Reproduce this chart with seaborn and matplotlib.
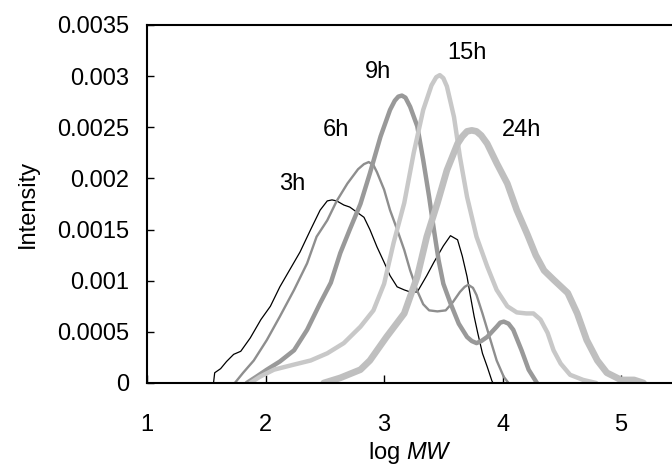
import matplotlib
matplotlib.use("Agg")
import matplotlib.pyplot as plt
import seaborn as sns
import pandas as pd

# ---- data ----
x3 = [1.56, 1.57, 1.62, 1.67, 1.73, 1.79, 1.87, 1.96, 2.04, 2.12, 2.21, 2.29, 2.38, 2.46, 2.52, 2.56,
      2.60, 2.66, 2.71, 2.77, 2.83, 2.88, 2.94, 3.00, 3.05, 3.11, 3.17, 3.22, 3.28, 3.32, 3.36, 3.42,
      3.50, 3.56, 3.62, 3.66, 3.70, 3.73, 3.76, 3.79, 3.83, 3.87, 3.91, 3.92]
y3 = [0, 0.00010, 0.00014, 0.00021, 0.00028, 0.00031, 0.00044, 0.00062, 0.00075, 0.00094, 0.00112,
      0.00128, 0.00150, 0.00169, 0.00178, 0.00179, 0.00178, 0.00174, 0.00172, 0.00167, 0.00162,
      0.00150, 0.00133, 0.00118, 0.00105, 0.00094, 0.00091, 0.00089, 0.00089, 0.00097, 0.00105,
      0.00118, 0.00134, 0.00144, 0.00140, 0.00124, 0.00104, 0.00084, 0.00065, 0.00049, 0.00029,
      0.00016, 0.00002, 0]

x6 = [1.74, 1.81, 1.90, 2.01, 2.12, 2.24, 2.35, 2.43, 2.52, 2.60, 2.69, 2.78, 2.83, 2.87, 2.91, 2.94,
      3.00, 3.05, 3.11, 3.17, 3.22, 3.28, 3.33, 3.38, 3.45, 3.52, 3.58, 3.64, 3.68, 3.71, 3.75, 3.78,
      3.83, 3.89, 3.95, 4.01, 4.05]
y6 = [0, 0.00010, 0.00022, 0.00042, 0.00065, 0.00091, 0.00117, 0.00143, 0.00159, 0.00178, 0.00195,
      0.00209, 0.00214, 0.00216, 0.00213, 0.00206, 0.00189, 0.00169, 0.00150, 0.00130, 0.00110,
      0.00090, 0.00077, 0.00071, 0.00070, 0.00071, 0.00079, 0.00089, 0.00094, 0.00096, 0.00093,
      0.00086, 0.00068, 0.00045, 0.00022, 0.00006, 0]

x9 = [1.84, 1.92, 2.01, 2.12, 2.24, 2.35, 2.46, 2.55, 2.63, 2.71, 2.80, 2.88, 2.97, 3.05, 3.09, 3.12,
      3.15, 3.18, 3.22, 3.28, 3.33, 3.38, 3.42, 3.46, 3.50, 3.56, 3.63, 3.70, 3.74, 3.78, 3.82, 3.87,
      3.95, 3.98, 4.01, 4.05, 4.09, 4.16, 4.22, 4.29]
y9 = [0, 0.00006, 0.00013, 0.00021, 0.00032, 0.00052, 0.00078, 0.00098, 0.00127, 0.00150, 0.00175,
      0.00205, 0.00241, 0.00267, 0.00276, 0.00280, 0.00281, 0.00279, 0.00270, 0.00251, 0.00218,
      0.00182, 0.00150, 0.00120, 0.00097, 0.00078, 0.00058, 0.00045, 0.00041, 0.00039, 0.00041,
      0.00045, 0.00055, 0.00059, 0.00060, 0.00058, 0.00052, 0.00032, 0.00013, 0]

x15 = [1.87, 1.95, 2.07, 2.24, 2.38, 2.52, 2.66, 2.80, 2.91, 3.00, 3.08, 3.17, 3.25, 3.33, 3.40, 3.44,
       3.47, 3.50, 3.53, 3.59, 3.64, 3.70, 3.78, 3.87, 3.95, 4.04, 4.12, 4.20, 4.26, 4.32, 4.38, 4.43,
       4.49, 4.57, 4.68, 4.79]
y15 = [0, 0.00006, 0.00013, 0.00018, 0.00022, 0.00029, 0.00039, 0.00055, 0.00071, 0.00097, 0.00137,
       0.00176, 0.00225, 0.00267, 0.00291, 0.00299, 0.00301, 0.00298, 0.00290, 0.00260, 0.00221,
       0.00182, 0.00143, 0.00114, 0.00091, 0.00075, 0.00069, 0.00068, 0.00068, 0.00062, 0.00049,
       0.00032, 0.00019, 0.00008, 0.00003, 0]

x24 = [2.49, 2.63, 2.80, 2.88, 3.02, 3.17, 3.28, 3.36, 3.45, 3.53, 3.62, 3.66, 3.70, 3.74, 3.78, 3.82,
       3.87, 3.95, 4.04, 4.12, 4.21, 4.28, 4.35, 4.43, 4.55, 4.63, 4.71, 4.80, 4.88, 5.00, 5.11, 5.19]
y24 = [0, 0.00005, 0.00013, 0.00022, 0.00045, 0.00068, 0.00104, 0.00143, 0.00176, 0.00208, 0.00234,
       0.00241, 0.00246, 0.00247, 0.00246, 0.00242, 0.00234, 0.00215, 0.00195, 0.00169, 0.00145,
       0.00125, 0.00110, 0.00101, 0.00088, 0.00068, 0.00042, 0.00022, 0.00010, 0.00003, 0.00003, 0]

series_names = ["3h", "6h", "9h", "15h", "24h"]
label_x = [2.22, 2.59, 2.95, 3.70, 4.16]
label_y = [0.00195, 0.00247, 0.00304, 0.00323, 0.00247]
x_ticks = [1, 2, 3, 4, 5]
y_ticks = [0, 0.0005, 0.001, 0.0015, 0.002, 0.0025, 0.003, 0.0035]
y_ticklabels = ["0", "0.0005", "0.001", "0.0015", "0.002", "0.0025", "0.003", "0.0035"]

# ---- style ----
sns.set_theme(style="white")
plt.rcParams["font.family"] = ["Liberation Sans", "DejaVu Sans"]
plt.rcParams["mathtext.fontset"] = "custom"
plt.rcParams["mathtext.rm"] = "Liberation Sans"
plt.rcParams["mathtext.it"] = "Liberation Sans:italic"

colors = ["#000000", "#8e8e8e", "#999999", "#c8c8c8", "#bfbfbf"]
widths = [0.9, 1.7, 3.2, 3.2, 4.8]
FS = 17

fig = plt.figure(figsize=(6.72, 4.69), dpi=100)
ax = fig.add_axes([0.219, 0.1834, 0.781, 0.7633])

xs = [x3, x6, x9, x15, x24]
ys = [y3, y6, y9, y15, y24]
for name, xv, yv, c, w in zip(series_names, xs, ys, colors, widths):
    df = pd.DataFrame({"logMW": xv, "Intensity": yv})
    sns.lineplot(data=df, x="logMW", y="Intensity", ax=ax, color=c, linewidth=w,
                 sort=False, estimator=None, solid_joinstyle="round", solid_capstyle="round")

for name, lx, ly in zip(series_names, label_x, label_y):
    ax.text(lx, ly, name, ha="center", va="center", fontsize=FS, color="black")

ax.set_xlim(1, 5.43)
ax.set_ylim(0, 0.0035)
ax.set_xticks(x_ticks)
ax.set_xticklabels([str(t) for t in x_ticks])
ax.set_yticks(y_ticks)
ax.set_yticklabels(y_ticklabels)

for s in ["left", "bottom", "top"]:
    ax.spines[s].set_visible(True)
    ax.spines[s].set_color("black")
    ax.spines[s].set_linewidth(1.5)
ax.spines["right"].set_visible(False)

ax.tick_params(axis="y", direction="in", length=5, width=1, colors="black",
               labelsize=FS, pad=13, left=True)
ax.tick_params(axis="x", direction="in", length=6, width=1, colors="black",
               labelsize=FS, pad=22, bottom=True)

ax.set_xlabel("log $\\mathit{MW}$", fontsize=FS, labelpad=3, color="black")
ax.set_ylabel("Intensity", fontsize=FS, labelpad=13, color="black")
ax.grid(False)

fig.savefig("out.png", dpi=100)
